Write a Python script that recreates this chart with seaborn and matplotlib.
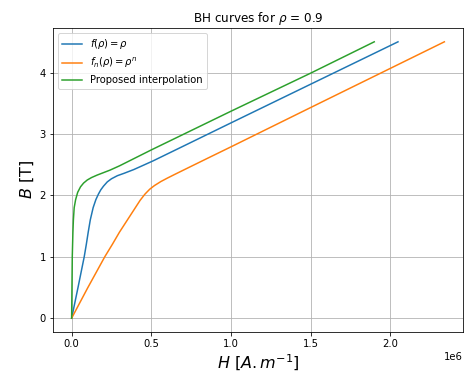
import matplotlib
matplotlib.use("Agg")
import matplotlib.pyplot as plt
import seaborn as sns
import pandas as pd

# Field H (in A/m) and flux density B (in T)
H_linear = [0.0, 0.04e6, 0.079e6, 0.092e6, 0.104e6, 0.117e6, 0.135e6, 0.152e6, 0.168e6, 0.183e6,
            0.2e6, 0.224e6, 0.25e6, 0.287e6, 0.33e6, 0.39e6, 0.45e6, 0.51e6, 0.7e6, 1.0e6, 1.5e6, 2.048e6]
B_linear = [0.0, 0.5, 1.0, 1.2, 1.4, 1.6, 1.8, 1.93, 2.02, 2.09,
            2.15, 2.22, 2.27, 2.32, 2.36, 2.42, 2.49, 2.56, 2.80, 3.18, 3.81, 4.5]

H_power = [0.0, 0.1e6, 0.208e6, 0.255e6, 0.3e6, 0.35e6, 0.40e6, 0.43e6, 0.46e6, 0.49e6,
           0.52e6, 0.56e6, 0.6e6, 0.65e6, 0.74e6, 0.85e6, 1.0e6, 1.5e6, 2.339e6]
B_power = [0.0, 0.49, 1.0, 1.2, 1.4, 1.6, 1.8, 1.92, 2.02, 2.1,
           2.16, 2.225, 2.28, 2.345, 2.46, 2.60, 2.79, 3.43, 4.5]

H_interp = [0.0, 0.002e6, 0.004e6, 0.006e6, 0.008e6, 0.011e6, 0.016e6, 0.025e6, 0.038e6, 0.056e6,
            0.075e6, 0.098e6, 0.125e6, 0.16e6, 0.2e6, 0.24e6, 0.3e6, 0.5e6, 1.0e6, 1.5e6, 1.899e6]
B_interp = [0.0, 0.5, 1.0, 1.2, 1.4, 1.6, 1.8, 1.93, 2.05, 2.14,
            2.2, 2.25, 2.29, 2.33, 2.37, 2.41, 2.48, 2.74, 3.37, 3.99, 4.5]

labels = [r"$f(\rho) = \rho$", r"$f_n(\rho) = \rho^n$", "Proposed interpolation"]
colors = ["tab:blue", "tab:orange", "tab:green"]

fig = plt.figure(figsize=(465 / 72, 381 / 72), dpi=72)
ax = fig.add_axes([53 / 465, 1 - 332 / 381, 410 / 465, 304 / 381])

for H, B, lab, col in zip([H_linear, H_power, H_interp],
                          [B_linear, B_power, B_interp], labels, colors):
    df = pd.DataFrame({"H": H, "B": B})
    sns.lineplot(data=df, x="H", y="B", sort=False, estimator=None,
                 color=col, label=lab, linewidth=1.5, ax=ax)

ax.grid(True)
ax.set_title(r"BH curves for $\rho$ = 0.9", fontsize=12)
ax.set_xlabel(r"$H\ [A.m^{-1}]$", fontsize=16)
ax.set_ylabel(r"$B$ [T]", fontsize=16)
ax.legend(loc="upper left")

fig.savefig("out.png", dpi=72)
